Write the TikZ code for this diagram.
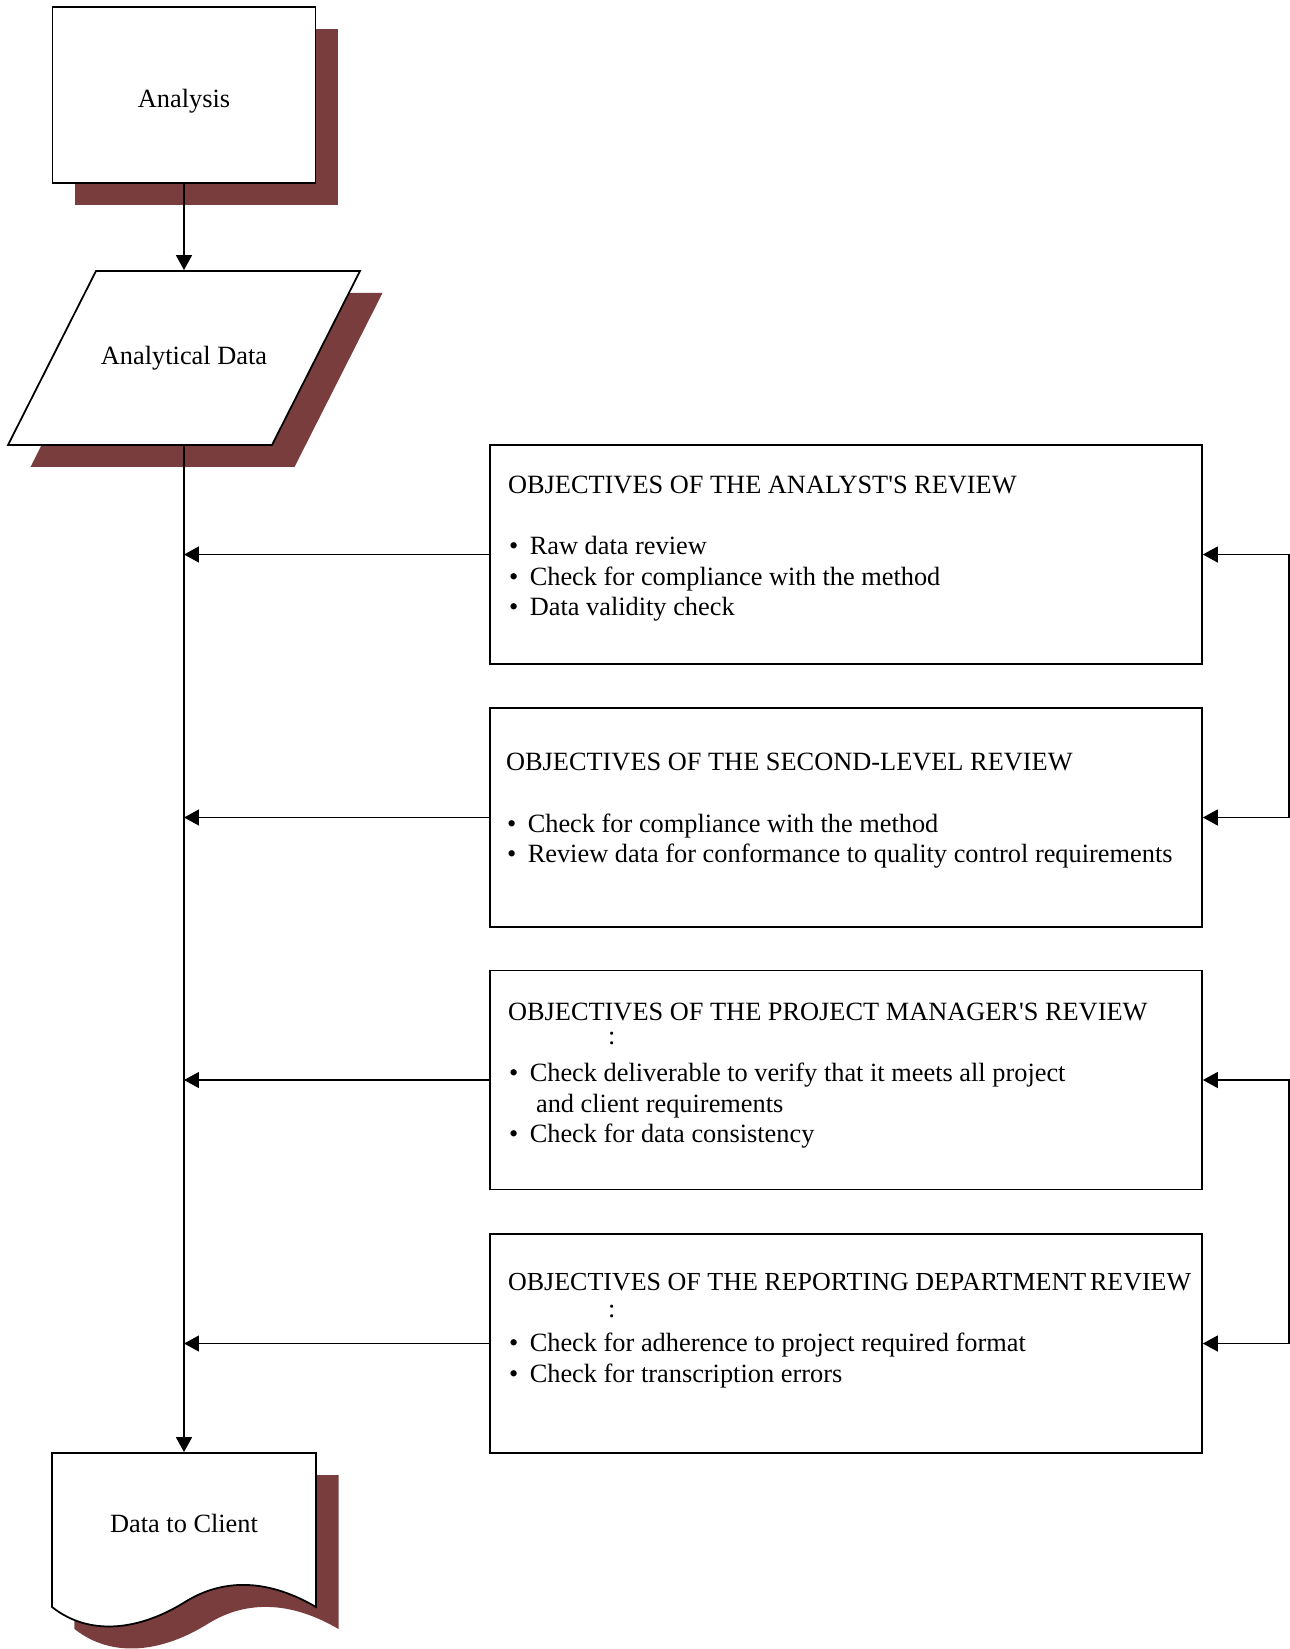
\documentclass[tikz,border=0pt]{standalone}
\usepackage{fontspec}
\setmainfont{Liberation Serif}
\usetikzlibrary{arrows.meta,shadows}
\definecolor{shadowbrown}{RGB}{122,61,61}
\newcommand{\itembullet}{\hspace*{0.02cm}\textbullet\hspace{0.23cm}}

\begin{document}
\begin{tikzpicture}[x=0.02cm, y=-0.02cm, line width=1pt, font=\fontsize{15}{17.4}\selectfont,
    brownshadow/.style={drop shadow={shadow xshift=0.45cm, shadow yshift=-0.44cm, shadow scale=1, opacity=1, fill=shadowbrown}},
    flowbox/.style={rectangle, draw, fill=white, brownshadow, minimum width=5.26cm, minimum height=3.52cm},
    reviewbox/.style={rectangle, draw, minimum width=14.24cm, minimum height=4.38cm},
    reviewtext/.style={anchor=north west, align=left, inner sep=0pt},
    flowarrow/.style={-{Triangle[length=8.5pt,width=9pt]}},
    feedback/.style={{Triangle[length=8.5pt,width=9pt]}-{Triangle[length=8.5pt,width=9pt]}}]
    \useasboundingbox (0,0) rectangle (1289,1649);

    % Shapes
    \node (analysis) [flowbox, text height=16pt, text depth=2pt] at (184,95) {Analysis};
    \draw[fill=white, brownshadow] (96,271) -- (360,271) -- (272,445) -- (8,445) -- cycle;
    \node (adata) [minimum width=3.52cm, minimum height=3.48cm] at (184,358) {Analytical Data};
    \draw[fill=white, brownshadow] (52,1453) -- (316,1453) -- (316,1607)
        .. controls (270,1580) and (225,1577) .. (185,1602)
        .. controls (140,1630) and (90,1637) .. (52,1607) -- cycle;
    \node (dclient) [minimum width=5.26cm, minimum height=2.8cm] at (184,1523) {Data to Client};

    % Reviews
    \node (rev1) [reviewbox] at (846,554.5) {};
    \node (rev2) [reviewbox] at (846,817.5) {};
    \node (rev3) [reviewbox] at (846,1080) {};
    \node (rev4) [reviewbox] at (846,1343.5) {};
    \node (rev1text) [reviewtext] at ([xshift=0.36cm, yshift=-0.62cm]rev1.north west)
        {OBJECTIVES OF THE ANALYST\textquotesingle S REVIEW\\ \strut\\ \itembullet Raw data review\\
         \itembullet Check for compliance with the method\\ \itembullet Data validity check};
    \node (rev2text) [reviewtext] at ([xshift=0.32cm, yshift=-0.91cm]rev2.north west)
        {OBJECTIVES OF THE SECOND-LEVEL REVIEW\\ \strut\\ \itembullet Check for compliance with the method\\
         \itembullet Review data for conformance to quality control requirements};
    \node (rev3text) [reviewtext] at ([xshift=0.36cm, yshift=-0.65cm]rev3.north west)
        {OBJECTIVES OF THE PROJECT MANAGER\textquotesingle S REVIEW\\ \hspace*{2.0cm}\raisebox{0.13cm}{:}\\
         \itembullet Check deliverable to verify that it meets all project\\
         \hspace*{0.56cm}and client requirements\\ \itembullet Check for data consistency};
    \node (rev4text) [reviewtext] at ([xshift=0.36cm, yshift=-0.79cm]rev4.north west)
        {{\fontsize{14.8}{17.4}\selectfont OBJECTIVES OF THE REPORTING DEPARTMENT\hspace{0.15em}REVIEW}\\
         \hspace*{2.0cm}\raisebox{0.07cm}{:}\\
         \itembullet Check for adherence to project required format\\ \itembullet Check for transcription errors};

    % Arrows
    \draw[flowarrow] (analysis.south) -- (adata.north);
    \draw[flowarrow] (adata.south) -- (dclient.north);
    \foreach \r in {rev1,rev2,rev3,rev4}
        \draw[flowarrow] (\r.west) -- (\r.west -| adata.south);
    \draw[feedback] (rev1.east) -- ++(86,0) |- (rev2.east);
    \draw[feedback] (rev3.east) -- ++(86,0) |- (rev4.east);
\end{tikzpicture}
\end{document}
